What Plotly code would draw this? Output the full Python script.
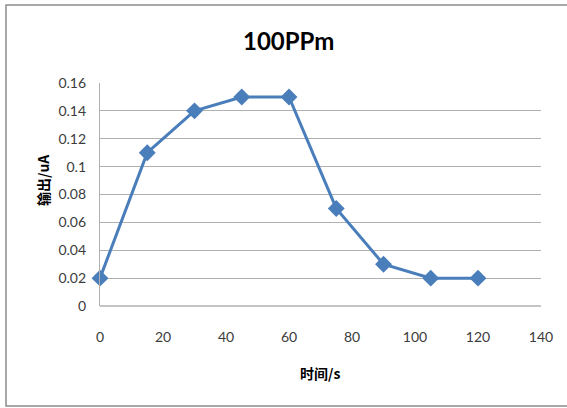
import plotly.graph_objects as go

time_s = [0, 15, 30, 45, 60, 75, 90, 105, 120]
output_uA = [0.02, 0.11, 0.14, 0.15, 0.15, 0.07, 0.03, 0.02, 0.02]
title_text = "100PPm"
x_title = "时间/s"
y_title = "输出/uA"

W, H = 567, 408
L, R, T, B = 100, 26, 83, 102
pw, ph = W - L - R, H - T - B

def px_x(p):
    return (p - L) / pw

def px_y(p):
    return (H - B - p) / ph

font_fam = "Lato, Noto Sans CJK SC, sans-serif"
cjk_fam = "Noto Sans CJK SC, sans-serif"

fig = go.Figure()
fig.add_trace(go.Scatter(
    x=time_s, y=output_uA, mode="lines+markers",
    line=dict(color="#4a7ebb", width=3),
    marker=dict(symbol="diamond", size=13, color="#4a7ebb"),
    cliponaxis=False, showlegend=False,
))

fig.update_layout(
    width=W, height=H,
    margin=dict(l=L, r=R, t=T, b=B),
    paper_bgcolor="white", plot_bgcolor="white",
    font=dict(family=font_fam, size=14, color="#3c3c3c"),
    xaxis=dict(range=[0, 140], dtick=20, tick0=0, showgrid=False, zeroline=False,
               showline=False, ticks="", ticklabelstandoff=21,
               tickfont=dict(size=14, color="#3c3c3c")),
    yaxis=dict(range=[0, 0.16], dtick=0.02, tick0=0, showgrid=True,
               gridcolor="#b0b0b0", gridwidth=1.3, zeroline=False,
               showline=True, linecolor="#b0b0b0", linewidth=1.3, ticks="",
               ticklabelstandoff=10, tickfont=dict(size=14, color="#3c3c3c")),
    shapes=[
        dict(type="rect", xref="paper", yref="paper",
             x0=px_x(6), x1=px_x(572), y0=px_y(406), y1=px_y(5),
             line=dict(color="#8c8c8c", width=1.5), layer="below"),
        dict(type="line", xref="paper", yref="paper",
             x0=0, x1=1, y0=0, y1=0, line=dict(color="#b0b0b0", width=1.3)),
    ],
    annotations=[
        dict(text="<b>" + title_text + "</b>", xref="paper", yref="paper",
             x=px_x(288), y=px_y(41), showarrow=False,
             xanchor="center", yanchor="middle",
             font=dict(size=24, family=font_fam, color="#000000")),
        dict(text="<b>" + x_title + "</b>", xref="paper", yref="paper",
             x=px_x(320), y=px_y(373), showarrow=False,
             xanchor="center", yanchor="middle",
             font=dict(size=14, family=cjk_fam, color="#000000")),
        dict(text="<b>" + y_title + "</b>", xref="paper", yref="paper",
             x=px_x(43), y=px_y(180), showarrow=False, textangle=-90,
             xanchor="center", yanchor="middle",
             font=dict(size=14, family=cjk_fam, color="#000000")),
    ],
)

fig.write_html("out.html", config={"displayModeBar": False},
               post_script="document.body.style.margin='0';document.body.style.overflow='hidden';")
